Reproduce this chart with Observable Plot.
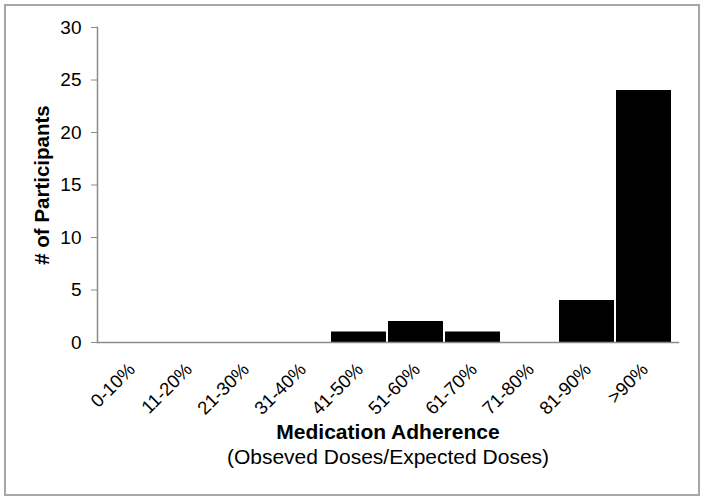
<!DOCTYPE html>
<html>
<head>
<meta charset="utf-8">
<script src="https://cdn.jsdelivr.net/npm/d3@7"></script>
<script src="https://cdn.jsdelivr.net/npm/@observablehq/plot@0.6"></script>
<style>
  body { margin: 0; background: #fff; font-family: "Liberation Sans", Arial, sans-serif; }
  #frame { position: absolute; left: 4px; top: 4px; width: 692px; height: 488px; border: 2px solid #a6a6a6; box-sizing: content-box; }
  #frame svg { display: block; }
</style>
</head>
<body>
<div id="frame"></div>
<script>
const categories = ["0-10%", "11-20%", "21-30%", "31-40%", "41-50%", "51-60%", "61-70%", "71-80%", "81-90%", ">90%"];
const participants = [0, 0, 0, 0, 1, 2, 1, 0, 4, 24];
const yTicks = [0, 5, 10, 15, 20, 25, 30];
const yLabel = "# of Participants";
const xTitle = "Medication Adherence";
const xSubtitle = "(Obseved Doses/Expected Doses)";

const data = categories.map((c, i) => ({category: c, value: participants[i]}));

const chart = Plot.plot({
  width: 692,
  height: 488,
  marginLeft: 91,
  marginRight: 20,
  marginTop: 21,
  marginBottom: 152,
  style: {fontFamily: "'Liberation Sans', Arial, sans-serif", color: "#000", background: "#fff"},
  x: {domain: categories, padding: 0.035, label: null, axis: null},
  y: {domain: [0, 30], label: null, axis: null},
  marks: [
    Plot.barY(data, {x: "category", y: "value", fill: "#000"}),
    Plot.frame({anchor: "left", stroke: "#8c8c8c", strokeWidth: 1.5}),
    Plot.frame({anchor: "bottom", stroke: "#8c8c8c", strokeWidth: 1.5}),
    Plot.axisY({ticks: yTicks, tickSize: 6, tickPadding: 10, fontSize: 19, stroke: "#8c8c8c", label: null}),
    Plot.text(categories, {x: d => d, frameAnchor: "bottom", rotate: -45, textAnchor: "end", lineAnchor: "middle", dx: 1, dy: 24, fontSize: 18.5}),
    Plot.text([yLabel], {frameAnchor: "left", rotate: -90, textAnchor: "middle", lineAnchor: "middle", dx: -55, fontSize: 20.5, fontWeight: "bold"}),
    Plot.text([xTitle], {frameAnchor: "bottom", dy: 96, fontSize: 21, fontWeight: "bold"}),
    Plot.text([xSubtitle], {frameAnchor: "bottom", dy: 121, fontSize: 21})
  ]
});
document.getElementById("frame").appendChild(chart);
</script>
</body>
</html>
